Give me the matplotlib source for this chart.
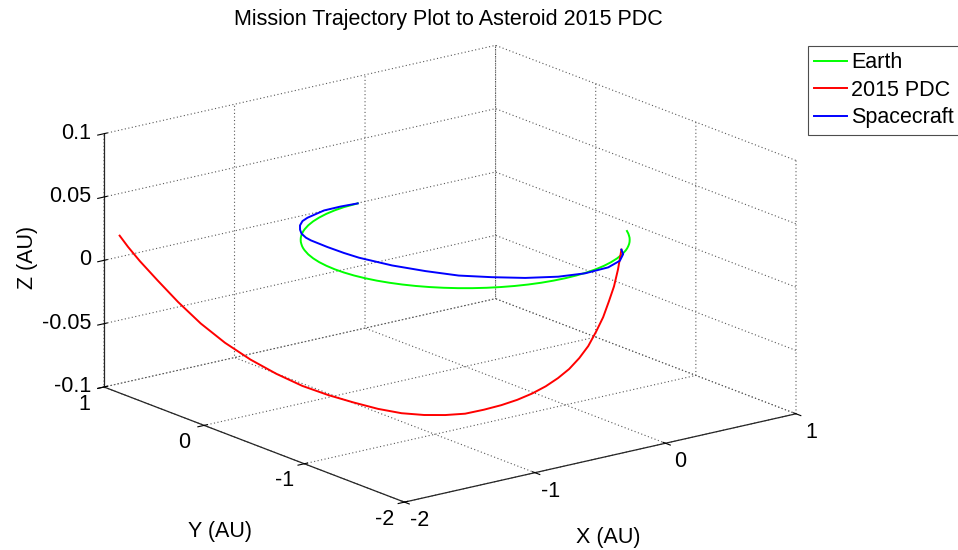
import matplotlib
matplotlib.use("Agg")
import matplotlib.pyplot as plt
import numpy as np
from mpl_toolkits.mplot3d import proj3d

# Earth orbit (AU), launch -> end of plot
earth_x = [-0.060, -0.174, -0.259, -0.342, -0.423, -0.500, -0.574, -0.643, -0.676, -0.707,
           -0.737, -0.766, -0.793, -0.819, -0.843, -0.866, -0.887, -0.906, -0.940, -0.966,
           -0.985, -0.996, -1.000, -0.996, -0.985, -0.966, -0.940, -0.906, -0.866, -0.819,
           -0.766, -0.707, -0.643, -0.574, -0.500, -0.423, -0.342, -0.259, -0.174, -0.087,
           0.000, 0.087, 0.174, 0.259, 0.342, 0.423, 0.500, 0.574, 0.643, 0.676,
           0.707, 0.737, 0.766, 0.793, 0.819, 0.843, 0.866, 0.891]
earth_y = [0.995, 0.985, 0.966, 0.940, 0.906, 0.866, 0.819, 0.766, 0.737, 0.707,
           0.676, 0.643, 0.609, 0.574, 0.537, 0.500, 0.462, 0.423, 0.342, 0.259,
           0.174, 0.087, 0.000, -0.087, -0.174, -0.259, -0.342, -0.423, -0.500, -0.574,
           -0.643, -0.707, -0.766, -0.819, -0.866, -0.906, -0.940, -0.966, -0.985, -0.996,
           -1.000, -0.996, -0.985, -0.966, -0.940, -0.906, -0.866, -0.819, -0.766, -0.737,
           -0.707, -0.676, -0.643, -0.609, -0.574, -0.537, -0.500, -0.454]
earth_z = [0.0] * len(earth_x)

# asteroid 2015 PDC (AU), up to intercept
pdc_x = [-1.950, -1.984, -2.007, -2.014, -1.998, -1.960, -1.904, -1.830, -1.744, -1.645,
         -1.538, -1.425, -1.306, -1.185, -1.062, -0.940, -0.819, -0.699, -0.582, -0.468,
         -0.358, -0.250, -0.147, -0.048, 0.047, 0.138, 0.225, 0.308, 0.386, 0.461,
         0.531, 0.630]
pdc_y = [0.909, 0.781, 0.633, 0.446, 0.263, 0.086, -0.083, -0.241, -0.387, -0.519,
         -0.637, -0.741, -0.832, -0.909, -0.974, -1.026, -1.067, -1.098, -1.119, -1.130,
         -1.134, -1.130, -1.118, -1.101, -1.078, -1.049, -1.014, -0.976, -0.932, -0.885,
         -0.834, -0.739]
pdc_z = [0.0211, 0.0169, 0.0107, 0.0012, -0.0106, -0.0231, -0.0345, -0.0447, -0.0535, -0.0614,
         -0.0675, -0.0728, -0.0779, -0.0818, -0.0841, -0.0854, -0.0859, -0.0846, -0.0831, -0.0812,
         -0.0787, -0.0756, -0.0719, -0.0675, -0.0618, -0.0553, -0.0470, -0.0387, -0.0293, -0.0207,
         -0.0104, 0.0]

# spacecraft transfer (AU)
sc_x = [-0.060, -0.181, -0.311, -0.482, -0.548, -0.615, -0.669, -0.712, -0.741, -0.751,
        -0.755, -0.750, -0.737, -0.675, -0.585, -0.481, -0.342, -0.190, -0.015, 0.156,
        0.343, 0.482, 0.582, 0.630]
sc_y = [0.995, 1.007, 1.004, 0.946, 0.910, 0.848, 0.777, 0.706, 0.624, 0.562,
        0.392, 0.232, 0.099, -0.150, -0.366, -0.562, -0.711, -0.847, -0.949, -0.993,
        -0.981, -0.916, -0.819, -0.739]
sc_z = [0.0] * len(sc_x)

x_ticks = [-2, -1, 0, 1]
y_ticks = [-2, -1, 0, 1]
z_ticks = [-0.1, -0.05, 0, 0.05, 0.1]
xy_tick_labels = ['-2', '-1', '0', '1']
z_tick_labels = ['-0.1', '-0.05', '0', '0.05', '0.1']

W, H = 958, 550
fs = 15.5
plt.rcParams['font.family'] = ['Liberation Sans', 'DejaVu Sans']
plt.rcParams['grid.color'] = '0.35'
plt.rcParams['grid.linestyle'] = (0, (1, 2.2))
plt.rcParams['grid.linewidth'] = 0.8

fig = plt.figure(figsize=(W / 100, H / 100), dpi=100)
ax = fig.add_subplot(projection='3d', proj_type='ortho')
ax.view_init(elev=17.1, azim=-127.5)
ax.set_box_aspect((1, 1, 0.537))
ax.computed_zorder = False

l1, = ax.plot(earth_x, earth_y, earth_z, color=(0, 1, 0), lw=1.4, label='Earth')
l2, = ax.plot(pdc_x, pdc_y, pdc_z, color=(1, 0, 0), lw=1.4, label='2015 PDC')
l3, = ax.plot(sc_x, sc_y, sc_z, color=(0, 0, 1), lw=1.4, label='Spacecraft')

ax.set_xlim(-2, 1)
ax.set_ylim(-2, 1)
ax.set_zlim(-0.1, 0.1)
ax.set_xticks(x_ticks)
ax.set_xticklabels(xy_tick_labels)
ax.set_yticks(y_ticks)
ax.set_yticklabels(xy_tick_labels)
ax.set_zticks(z_ticks)
ax.set_zticklabels(z_tick_labels)
ax.tick_params(labelsize=fs)
ax.tick_params(axis='x', pad=5.7)
ax.tick_params(axis='y', pad=5.7)
ax.tick_params(axis='z', pad=-3)
for t in ax.get_xticklabels() + ax.get_yticklabels():
    t.set_va('center')
for t in ax.get_zticklabels():
    t.set_va('center')
    t.set_ha('right')

for a in (ax.xaxis, ax.yaxis, ax.zaxis):
    a.set_pane_color((1, 1, 1, 0))
    a.line.set_color('0.15')
    a.line.set_linewidth(0.9)
    a._axinfo['tick']['color'] = '0.15'

ax.set_zlabel('Z (AU)', fontsize=fs, labelpad=9.2)

# put the box where the original has it
M = ax.get_proj()
px, py, _ = proj3d.proj_transform(np.array([-2.0, 1.0]), np.array([1.0, -2.0]),
                                  np.array([-0.1, -0.1]), M)
vx0, vx1 = ax.viewLim.intervalx
vy0, vy1 = ax.viewLim.intervaly
k = (796 - 104) / (px[1] - px[0])
left = 104 - k * (px[0] - vx0)
bottom = 163 - k * (py[0] - vy0)
ax.set_position([left / W, bottom / H, k * (vx1 - vx0) / W, k * (vy1 - vy0) / H])

fig.text(448 / W, 1 - 20 / H, 'Mission Trajectory Plot to Asteroid 2015 PDC',
         ha='center', va='center', fontsize=fs)
fig.text(608 / W, 1 - 538 / H, 'X (AU)', ha='center', va='center', fontsize=fs)
fig.text(220 / W, 1 - 532 / H, 'Y (AU)', ha='center', va='center', fontsize=fs)

leg = fig.legend(handles=[l1, l2, l3], loc='upper left', bbox_to_anchor=(808 / W, 1 - 46 / H),
                 borderaxespad=0, fancybox=False, edgecolor='0.3', framealpha=1,
                 handlelength=1.5, handletextpad=0.2, labelspacing=0.3, borderpad=0.3,
                 fontsize=fs)
leg.get_frame().set_linewidth(0.8)

fig.savefig('out.png', dpi=100)
